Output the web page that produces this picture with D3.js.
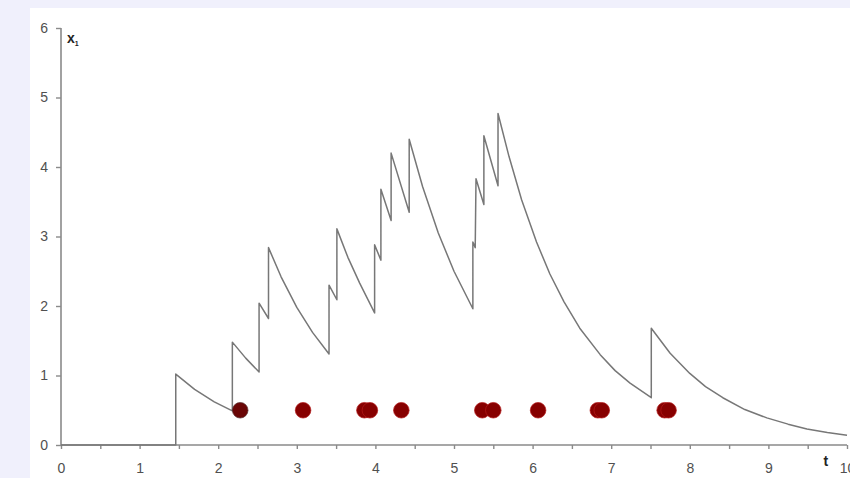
<!DOCTYPE html>
<html><head><meta charset="utf-8">
<script src="https://cdn.jsdelivr.net/npm/d3@7"></script>
<style>
html,body{margin:0;padding:0;background:#f0f0fc;}
svg{display:block;}
</style></head>
<body>
<svg id="chart" width="850" height="478"></svg>
<script>
// Concentration curve x1(t): time points and values
const curveT = [0,1.46,1.46,1.7,1.95,2.18,2.18,2.35,2.52,2.52,2.64,2.64,2.8,3.0,3.2,3.41,3.41,3.51,3.51,3.65,3.8,3.99,3.99,4.07,4.07,4.2,4.2,4.43,4.43,4.6,4.8,5.0,5.24,5.24,5.27,5.28,5.38,5.38,5.56,5.56,5.7,5.86,6.05,6.22,6.4,6.6,6.86,7.05,7.24,7.51,7.51,7.75,8.0,8.2,8.42,8.7,8.98,9.25,9.49,9.75,10.0];
const curveX = [0,0,1.02,0.80,0.62,0.49,1.48,1.25,1.05,2.04,1.82,2.84,2.42,1.98,1.62,1.31,2.30,2.09,3.11,2.70,2.33,1.90,2.88,2.66,3.68,3.23,4.20,3.35,4.40,3.72,3.05,2.50,1.96,2.92,2.84,3.83,3.46,4.45,3.73,4.77,4.15,3.53,2.92,2.46,2.06,1.68,1.30,1.07,0.89,0.68,1.68,1.32,1.03,0.84,0.68,0.51,0.39,0.30,0.23,0.18,0.14];
// Event markers (dots) times, all drawn at level 0.5
const dotT = [2.28,3.08,3.86,3.93,4.33,5.36,5.50,6.07,6.83,6.88,7.68,7.73];
const dotLevel = 0.5;
const xTicks = [0,1,2,3,4,5,6,7,8,9,10];
const xMinorTicks = [0,0.5,1,1.5,2,2.5,3,3.5,4,4.5,5,5.5,6,6.5,7,7.5,8,8.5,9,9.5,10];
const yTicks = [0,1,2,3,4,5,6];

const svg = d3.select("#chart");
svg.append("rect").attr("x",30).attr("y",8).attr("width",820).attr("height",470).attr("fill","#ffffff");

const x = d3.scaleLinear().domain([0,10]).range([61,847]);
const y = d3.scaleLinear().domain([0,6]).range([445,28]);

const axisColor = "#8a8a8a";
const labelColor = "#505050";
const font = "Liberation Sans, Arial, sans-serif";

// X axis
const xAxis = svg.append("g").attr("transform",`translate(0,${y(0)})`)
  .call(d3.axisBottom(x).tickValues(xMinorTicks).tickSize(4).tickFormat(""));
xAxis.select(".domain").attr("stroke",axisColor).attr("stroke-width",1.6).attr("d",`M${x(0)},0H${x(10)}`);
xAxis.selectAll(".tick line").attr("stroke",axisColor).attr("stroke-width",1.4);
const xLab = svg.append("g").attr("transform",`translate(0,${y(0)})`)
  .call(d3.axisBottom(x).tickValues(xTicks).tickSize(0).tickPadding(18).tickFormat(d3.format("d")));
xLab.select(".domain").remove();
xLab.selectAll("text").attr("fill",labelColor).attr("font-size",14).attr("font-family",font);

// Y axis
const yAxis = svg.append("g").attr("transform",`translate(${x(0)},0)`)
  .call(d3.axisLeft(y).tickValues(yTicks).tickSize(5).tickPadding(8).tickFormat(d3.format("d")));
yAxis.select(".domain").attr("stroke",axisColor).attr("stroke-width",1.6).attr("d",`M0,${y(0)}V${y(6)}`);
yAxis.selectAll(".tick line").attr("stroke",axisColor).attr("stroke-width",1.4);
yAxis.selectAll("text").attr("fill",labelColor).attr("font-size",14).attr("font-family",font);

// Axis titles
const yt = svg.append("text").attr("x",x(0)+6).attr("y",y(6)+15).attr("font-family",font)
  .attr("font-weight","bold").attr("fill","#222").attr("font-size",14);
yt.append("tspan").text("x");
yt.append("tspan").attr("font-size",7).attr("dy",3).text("1");
svg.append("text").attr("x",x(9.7)).attr("y",y(0)+21).attr("font-family",font)
  .attr("font-weight","bold").attr("fill","#222").attr("font-size",14).text("t");

// Curve
const pts = curveT.map((t,i)=>[t,curveX[i]]);
svg.append("path").datum(pts)
  .attr("fill","none").attr("stroke","#777777").attr("stroke-width",1.5).attr("stroke-linejoin","round")
  .attr("d", d3.line().x(d=>x(d[0])).y(d=>y(d[1])));

// Dots
svg.append("g").selectAll("circle").data(dotT).join("circle")
  .attr("cx",d=>x(d)).attr("cy",y(dotLevel)).attr("r",7.8)
  .attr("fill",(d,i)=> i===0 ? "#6a0606" : "#870000")
  .attr("stroke",(d,i)=> i===0 ? "#5a3030" : "#b31a1a").attr("stroke-width",1)
  .attr("stroke-opacity",0.7);
</script>
</body></html>
